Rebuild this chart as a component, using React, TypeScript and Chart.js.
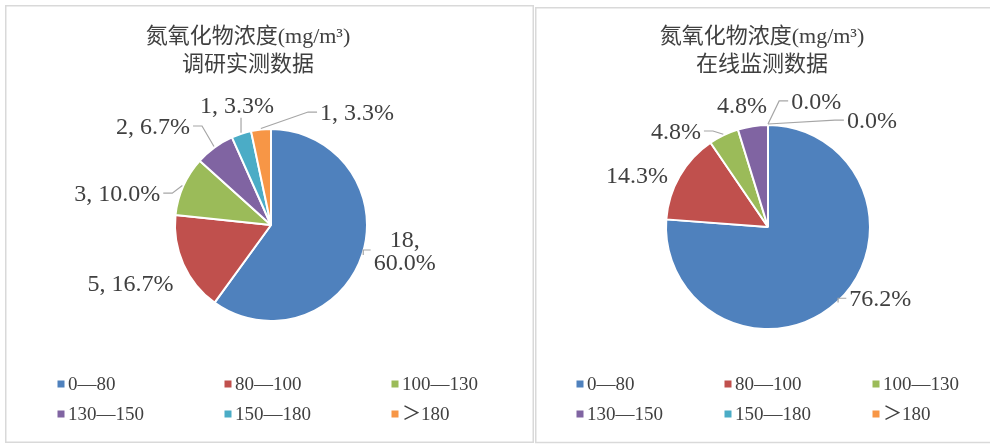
import React, { useEffect, useRef } from "react";
import { Chart, registerables } from "chart.js";

Chart.register(...registerables);

// ---------- data ----------
const categories = ["0—80", "80—100", "100—130", "130—150", "150—180", "＞180"];
const surveyCounts = [18, 5, 3, 2, 1, 1];
const onlineCounts = [16, 3, 1, 1, 0, 0];
const sliceColors = ["#4F81BD", "#C0504D", "#9BBB59", "#8064A2", "#4BACC6", "#F79646"];
const titleLine1 = "氮氧化物浓度(mg/m³)";
const surveyTitle2 = "调研实测数据";
const onlineTitle2 = "在线监测数据";

// ---------- label placement (polar, around pie centre) ----------
const surveyLabelAngle = [10.6, 157.6, 191.7, 220, 254.2, 307.3];
const surveyLabelDist = [136, 152, 157, 154, 125, 142];
const surveyLeader = [true, false, true, true, true, true];
const surveyWrap = [true, false, false, false, false, false];

const onlineLabelAngle = [32.4, 201.6, 226.2, 258, 290.9, 314.2];
const onlineLabelDist = [133, 141, 133, 125, 135, 149];
const onlineLeader = [true, false, true, false, true, true];
const onlineWrap = [false, false, false, false, false, false];

const TEXT = "#404040";
const FONT = '"Liberation Serif", "Noto Sans CJK SC"';

type Cfg = {
  frame: [number, number, number, number];
  title: string[];
  titleX: number;
  showValue: boolean;
  labelAngle: number[];
  labelDist: number[];
  leader: boolean[];
  wrap: boolean[];
  legendX0: number;
  legendColW: number;
};

function makeDecor(cfg: Cfg) {
  return {
    id: "decor",
    afterDraw(chart: any) {
      const ctx: CanvasRenderingContext2D = chart.ctx;
      ctx.save();
      // frame
      ctx.strokeStyle = "#d9d9d9";
      ctx.lineWidth = 1.5;
      ctx.strokeRect(cfg.frame[0], cfg.frame[1], cfg.frame[2], cfg.frame[3]);

      // title
      ctx.fillStyle = TEXT;
      ctx.textAlign = "center";
      ctx.textBaseline = "alphabetic";
      ctx.font = `22px ${FONT}`;
      cfg.title.forEach((t, k) => ctx.fillText(t, cfg.titleX, 42.5 + k * 28.5));

      // data labels + leader lines
      const meta = chart.getDatasetMeta(0);
      const values = chart.data.datasets[0].data as number[];
      const total = values.reduce((a, b) => a + b, 0);
      const fs = 24;
      const lh = 23;
      ctx.font = `${fs}px ${FONT}`;
      meta.data.forEach((arc: any, i: number) => {
        const p = arc.getProps(["x", "y", "startAngle", "endAngle", "outerRadius"], true);
        const mid = (p.startAngle + p.endAngle) / 2;
        const pct = ((values[i] / total) * 100).toFixed(1) + "%";
        const lines = cfg.showValue
          ? cfg.wrap[i]
            ? [`${values[i]},`, pct]
            : [`${values[i]}, ${pct}`]
          : [pct];
        const a = (cfg.labelAngle[i] * Math.PI) / 180;
        const cx = p.x + cfg.labelDist[i] * Math.cos(a);
        const cy = p.y + cfg.labelDist[i] * Math.sin(a);
        const w = Math.max(...lines.map((l) => ctx.measureText(l).width));
        const left = cx - w / 2;
        const right = cx + w / 2;
        const top = cy - ((lines.length - 1) * lh) / 2 - 9;
        const bottom = cy + ((lines.length - 1) * lh) / 2 + 9;

        ctx.fillStyle = TEXT;
        ctx.textAlign = "center";
        lines.forEach((l, k) => {
          const ly = cy - ((lines.length - 1) * lh) / 2 + k * lh;
          ctx.fillText(l, cx, ly + 0.34 * fs);
        });

        if (cfg.leader[i]) {
          const px = p.x + (p.outerRadius + 1) * Math.cos(mid);
          const py = p.y + (p.outerRadius + 1) * Math.sin(mid);
          ctx.strokeStyle = "#a6a6a6";
          ctx.lineWidth = 1.2;
          ctx.beginPath();
          ctx.moveTo(px, py);
          if (px < left - 2) {
            const ax = left - 3;
            ctx.lineTo(Math.max(px, ax - 9), cy);
            ctx.lineTo(ax, cy);
          } else if (px > right + 2) {
            const ax = right + 3;
            ctx.lineTo(Math.min(px, ax + 9), cy);
            ctx.lineTo(ax, cy);
          } else if (py > bottom) {
            ctx.lineTo(px, bottom + 4);
          } else {
            ctx.lineTo(px, top - 4);
          }
          ctx.stroke();
        }
      });

      // legend
      const labels = chart.data.labels as string[];
      const colors = chart.data.datasets[0].backgroundColor as string[];
      ctx.font = `19px ${FONT}`;
      ctx.textAlign = "left";
      labels.forEach((lab, i) => {
        const col = i % 3;
        const row = Math.floor(i / 3);
        const mx = cfg.legendX0 + col * cfg.legendColW;
        const my = 384 + row * 30;
        ctx.fillStyle = colors[i];
        ctx.fillRect(mx - 3.5, my - 3.5, 7, 7);
        ctx.fillStyle = TEXT;
        ctx.fillText(lab, mx + 7, my + 0.34 * 19);
      });
      ctx.restore();
    },
  };
}

function PieCanvas(props: {
  values: number[];
  cfg: Cfg;
  radius: number;
  padding: { left: number; top: number; right: number; bottom: number };
  left: number;
  width: number;
}) {
  const ref = useRef<HTMLCanvasElement | null>(null);
  useEffect(() => {
    if (!ref.current) return;
    const chart = new Chart(ref.current, {
      type: "pie",
      data: {
        labels: categories,
        datasets: [
          {
            data: props.values,
            backgroundColor: sliceColors,
            borderColor: "#ffffff",
            borderWidth: 2,
          },
        ],
      },
      options: {
        responsive: false,
        animation: false,
        radius: props.radius,
        layout: { padding: props.padding },
        plugins: {
          legend: { display: false },
          title: { display: false },
          tooltip: { enabled: false },
        },
      } as any,
      plugins: [makeDecor(props.cfg) as any],
    });
    return () => chart.destroy();
  }, []);
  return (
    <canvas
      ref={ref}
      width={props.width}
      height={444}
      style={{ position: "absolute", left: props.left, top: 0, width: props.width, height: 444 }}
    />
  );
}

export default function App() {
  return (
    <div
      style={{
        position: "fixed",
        left: 0,
        top: 0,
        width: 990,
        height: 444,
        background: "#ffffff",
        overflow: "hidden",
      }}
    >
      <PieCanvas
        values={surveyCounts}
        radius={96}
        padding={{ left: 8, top: 6, right: 0, bottom: 0 }}
        left={0}
        width={534}
        cfg={{
          frame: [5.75, 5.75, 527.5, 436.5],
          title: [titleLine1, surveyTitle2],
          titleX: 248,
          showValue: true,
          labelAngle: surveyLabelAngle,
          labelDist: surveyLabelDist,
          leader: surveyLeader,
          wrap: surveyWrap,
          legendX0: 61,
          legendColW: 167,
        }}
      />
      <PieCanvas
        values={onlineCounts}
        radius={102}
        padding={{ left: 12, top: 10, right: 0, bottom: 0 }}
        left={534}
        width={456}
        cfg={{
          frame: [1.75, 7.75, 500, 434.75],
          title: [titleLine1, onlineTitle2],
          titleX: 228,
          showValue: false,
          labelAngle: onlineLabelAngle,
          labelDist: onlineLabelDist,
          leader: onlineLeader,
          wrap: onlineWrap,
          legendX0: 46,
          legendColW: 148,
        }}
      />
    </div>
  );
}
